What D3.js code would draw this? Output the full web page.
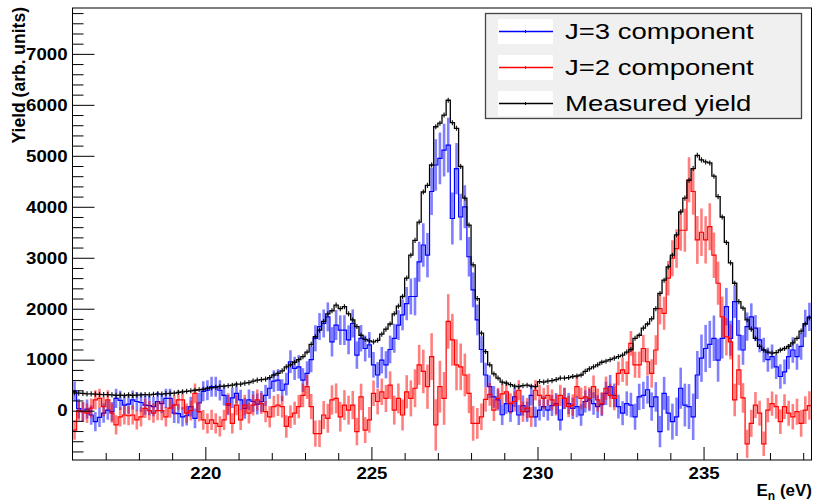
<!DOCTYPE html>
<html>
<head>
<meta charset="utf-8">
<script src="https://cdn.jsdelivr.net/npm/d3@7"></script>
<style>
  html, body { margin: 0; padding: 0; background: #fff; }
  svg { display: block; }
  text { font-family: "Liberation Sans", Arial, Helvetica, sans-serif; }
</style>
</head>
<body>
<svg id="chart" width="814" height="503"></svg>
<script>
// Histogram binning: 0.125 eV bins starting at 216 eV
const binStart = 216;
const binWidth = 0.125;

// Measured yield (black), one row per eV
const measured = [
  350, 345, 340, 330, 330, 325, 320, 315,
  315, 310, 300, 305, 300, 310, 300, 305,
  310, 315, 310, 320, 330, 325, 335, 340,
  345, 360, 370, 380, 390, 400, 410, 420,
  440, 450, 460, 475, 480, 490, 500, 520,
  520, 540, 550, 580, 600, 610, 620, 650,
  700, 730, 780, 860, 900, 950, 1000, 1060,
  1150, 1300, 1450, 1580, 1750, 1900, 1960, 2070,
  2000, 2040, 1900, 1780, 1650, 1480, 1400, 1370,
  1350, 1380, 1500, 1600, 1700, 1900, 2050, 2240,
  2600, 3050, 3340, 3700, 4290, 4420, 4820, 5570,
  5640, 5800, 6090, 5650, 5540, 4790, 4170, 3640,
  2860, 2200, 1520, 1160, 900, 720, 640, 560,
  540, 510, 480, 470, 490, 500, 480, 470,
  570, 560, 580, 590, 610, 640, 640, 650,
  670, 680, 700, 770, 820, 860, 900, 950,
  970, 1000, 1030, 1060, 1090, 1150, 1200, 1420,
  1480, 1620, 1700, 1800, 2000, 2300, 2560, 2820,
  3050, 3450, 3900, 4170, 4520, 4750, 5010, 4920,
  4880, 4860, 4600, 4200, 3800, 3300, 2900, 2500,
  2140, 2010, 1780, 1600, 1420, 1260, 1190, 1150,
  1130, 1140, 1190, 1220, 1260, 1330, 1420, 1560,
  1700, 1820
];

// J=3 component (blue)
const j3 = [
  380, 40, -20, 30, -85, -215, -130, -50,
  10, -20, 240, 200, 110, 130, 210, 180,
  160, 110, 100, 80, 180, 140, 240, 240,
  -50, -60, -120, -100, 80, -150, 150, 380,
  400, 470, 470, 400, 300, 110, 250, 340,
  210, 45, 210, 180, 130, 180, 300, 440,
  580, 600, 400, 520, 960, 830, 860, 600,
  730, 1000, 1420, 1650, 1710, 1840, 1350, 1680,
  1580, 1580, 1390, 1710, 1090, 1420, 1220, 1290,
  900, 700, 990, 900, 1200, 1420, 1680, 1880,
  2100, 2240, 2240, 2920, 3250, 3050, 4300, 4820,
  4950, 5110, 5210, 3770, 4750, 3800, 4000, 3020,
  2370, 1780, 1200, 700, 470, 270, 210, -80,
  140, -20, 270, -85, 100, -20, 300, -120,
  10, 80, 10, 100, 140, -180, 240, 140,
  45, 80, -85, 180, 210, 140, 80, 120,
  340, 470, 300, 80, -50, 140, 110, -120,
  270, 300, 410, 80, 270, -410, 340, -50,
  -215, -120, 440, 110, 80, -120, 700, 1030,
  1220, 1300, 1420, 990, 1420, 2040, 1420, 2140,
  1480, 1190, 1650, 1840, 1620, 1390, 1190, 1000,
  1060, 860, 670, 760, 1060, 1190, 1060, 1260,
  1710, 1840
];

// J=2 component (red)
const j2 = [
  -380, 0, -20, -50, 50, 210, 240, 80,
  210, -50, -280, -120, -85, -100, -85, -180,
  -120, 45, 0, -50, 0, 0, -120, 50,
  110, 210, 210, -50, 0, 340, -20, -180,
  -250, -180, -250, -310, -180, 140, -250, 110,
  -180, 110, -50, 110, 210, 140, -20, -120,
  80, 110, 80, -310, -120, -50, 80, 300,
  470, 80, -450, -450, -85, -150, 210, 240,
  -120, 110, 10, 110, -410, 270, -380, -180,
  340, 180, 370, 240, 500, 10, 240, -85,
  370, 240, 440, 900, 770, 470, 1060, -280,
  470, 240, 1750, 1390, 900, 860, 700, 340,
  -250, -250, -120, 220, 320, 10, 240, 330,
  370, 140, 180, 400, -20, 50, -120, 400,
  300, 240, 300, 210, 110, 300, 240, 80,
  110, 470, 240, 270, 240, 470, 210, 140,
  440, 300, 240, 730, 800, 730, 1320, 900,
  900, 1220, 960, 730, 1190, 2000, 1910, 2600,
  2990, 3180, 3540, 3540, 4530, 4300, 3350, 3500,
  3350, 3610, 3050, 2500, 1840, 1450, 1350, 210,
  800, 250, -650, -250, 110, -50, -650, 10,
  140, 80, -215, 80, -50, -120, -20, -250,
  10, 100
];

const xTicks = [220, 225, 230, 235];
const yTicks = [0, 1000, 2000, 3000, 4000, 5000, 6000, 7000];
const legendLabels = ["J=3 component", "J=2 component", "Measured yield"];
const seriesColors = ["#0000ff", "#ff0000", "#000000"];

const svg = d3.select("#chart");
const frameL = 72.5, frameR = 811.5, frameT = 8, frameB = 460;

const x = d3.scaleLinear().domain([216, 238.25]).range([frameL, frameR]);
const y = d3.scaleLinear().domain([-968, 7900]).range([frameB, frameT]);

const plot = svg.append("g");
plot.append("clipPath").attr("id", "clip")
  .append("rect").attr("x", frameL).attr("y", frameT)
  .attr("width", frameR - frameL).attr("height", frameB - frameT);
const layer = plot.append("g").attr("clip-path", "url(#clip)");

// uncertainty of the fitted components follows the measured counts
const compErr = i => 170 + 0.06 * measured[i];

function drawHist(values, color, errFn, errWidth, errOpacity, lineWidth) {
  const g = layer.append("g");
  // error bars
  values.forEach((v, i) => {
    const c = binStart + (i + 0.5) * binWidth;
    const e = errFn(i);
    g.append("line")
      .attr("x1", x(c)).attr("x2", x(c))
      .attr("y1", y(v - e)).attr("y2", y(v + e))
      .attr("stroke", color).attr("stroke-width", errWidth)
      .attr("stroke-opacity", errOpacity);
  });
  // histogram outline
  const pts = [];
  values.forEach((v, i) => {
    pts.push([binStart + i * binWidth, v]);
    pts.push([binStart + (i + 1) * binWidth, v]);
  });
  g.append("path")
    .attr("d", d3.line().x(d => x(d[0])).y(d => y(d[1]))(pts))
    .attr("fill", "none").attr("stroke", color).attr("stroke-width", lineWidth);
}

drawHist(j3, seriesColors[0], compErr, 2.6, 0.5, 1.2);
drawHist(j2, seriesColors[1], compErr, 2.6, 0.5, 1.2);
drawHist(measured, seriesColors[2], () => 50, 1.2, 0.9, 1.3);

// axes (ticks point into the frame)
const yAxis = d3.axisLeft(y).tickValues(yTicks).tickSizeInner(-22).tickSizeOuter(0).tickPadding(5)
  .tickFormat(d3.format("d"));
const yMinor = d3.axisLeft(y).tickValues(d3.range(-800, 7900, 200).filter(v => v % 1000 !== 0))
  .tickSizeInner(-11).tickSizeOuter(0).tickFormat("");
const xAxis = d3.axisBottom(x).tickValues(xTicks).tickSizeInner(-13).tickSizeOuter(0).tickPadding(7)
  .tickFormat(d3.format("d"));
const xMinor = d3.axisBottom(x).tickValues(d3.range(217, 239, 1).filter(v => v % 5 !== 0))
  .tickSizeInner(-7).tickSizeOuter(0).tickFormat("");

function styleAxis(g) {
  g.select(".domain").remove();
  g.selectAll("line").attr("stroke", "#000").attr("stroke-width", 1);
  g.selectAll("text").attr("fill", "#000").attr("font-size", 16.5).attr("font-weight", "bold")
    .attr("font-family", "'Liberation Sans', Arial, sans-serif");
}
svg.append("g").attr("transform", `translate(${frameL},0)`).call(yMinor).call(styleAxis);
const gy = svg.append("g").attr("transform", `translate(${frameL},0)`).call(yAxis).call(styleAxis);
svg.append("g").attr("transform", `translate(0,${frameB})`).call(xMinor).call(styleAxis);
const gx = svg.append("g").attr("transform", `translate(0,${frameB})`).call(xAxis).call(styleAxis);

// widen the tick labels slightly
gy.selectAll(".tick text").attr("transform", "scale(1.13,1)").attr("x", -5 / 1.13);
gx.selectAll(".tick text").attr("transform", "scale(1.13,1)");

// frame
svg.append("rect").attr("x", frameL).attr("y", frameT)
  .attr("width", frameR - frameL).attr("height", frameB - frameT)
  .attr("fill", "none").attr("stroke", "#000").attr("stroke-width", 1);

// axis titles
svg.append("text")
  .attr("transform", "translate(25,7) rotate(-90)")
  .attr("text-anchor", "end")
  .attr("font-size", 17.5).attr("font-weight", "bold").attr("fill", "#000")
  .text("Yield (arb. units)");

const xt = svg.append("text")
  .attr("x", 812).attr("y", 496)
  .attr("text-anchor", "end")
  .attr("font-size", 17).attr("font-weight", "bold").attr("fill", "#000");
xt.append("tspan").text("E");
xt.append("tspan").attr("font-size", 12).attr("dy", 3.5).text("n");
xt.append("tspan").attr("dy", -3.5).text(" (eV)");

// legend
const lg = svg.append("g");
lg.append("rect").attr("x", 485.5).attr("y", 13.5).attr("width", 316).attr("height", 105)
  .attr("fill", "#f0f0f0").attr("stroke", "#444").attr("stroke-width", 1.3);
const rowY = [31.5, 67.5, 103.5];
legendLabels.forEach((lab, k) => {
  const cy = rowY[k];
  const col = seriesColors[k];
  lg.append("rect").attr("x", 498).attr("y", cy - 12.5).attr("width", 55).attr("height", 25).attr("fill", "#fff");
  lg.append("line").attr("x1", 499).attr("x2", 553).attr("y1", cy).attr("y2", cy)
    .style("stroke", col).style("stroke-width", "1.3px");
  lg.append("line").attr("x1", 525.5).attr("x2", 525.5).attr("y1", cy - 1.5).attr("y2", cy + 1.5)
    .style("stroke", col).style("stroke-width", "1px");
  lg.append("text")
    .attr("transform", `translate(565,${cy + 7.5}) scale(1.25,1)`)
    .attr("font-size", 22).attr("fill", "#000")
    .text(lab);
});
</script>
</body>
</html>
